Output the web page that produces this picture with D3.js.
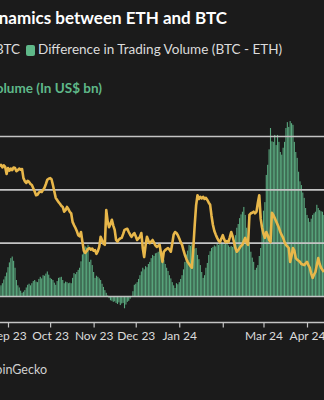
<!DOCTYPE html>
<html>
<head>
<meta charset="utf-8">
<script src="https://cdn.jsdelivr.net/npm/d3@7"></script>
<style>
  html, body { margin: 0; padding: 0; background: #1b1b1b; overflow: hidden; }
  svg { display: block; font-family: Lato, "Open Sans", sans-serif; }
</style>
</head>
<body>
<svg id="chart"></svg>
<script>
// Chart size matches the browser window
const width = 324;
const height = 400;

// First day of the series (one value per day from here)
const startDate = new Date(2023, 7, 26);

// Difference in trading volume BTC - ETH (US$ bn), daily
const volumeDiff = [
  1.7, 2.0, 2.4, 3.1, 3.7, 4.4, 5.4, 6.3, 7.1, 7.4, 6.6, 5.3, 3.0, 2.0, 1.6, 1.0, 0.6, 0.8, 1.1, 1.6,
  2.1, 2.3, 2.0, 2.4, 2.8, 3.0, 2.7, 2.6, 3.2, 3.6, 3.3, 3.9, 3.8, 4.2, 4.6, 4.0, 3.4, 3.2, 3.0, 2.5,
  2.1, 2.8, 3.4, 3.5, 3.6, 3.0, 2.4, 2.7, 2.6, 2.4, 2.5, 2.4, 3.4, 4.3, 4.1, 4.5, 4.9, 5.3, 6.5, 7.8,
  9.0, 9.3, 9.1, 9.6, 6.4, 6.8, 5.8, 4.5, 3.4, 3.8, 3.6, 3.3, 3.0, 2.3, 1.7, 1.1, 0.6, 0.1, -0.4, -0.8,
  -0.9, -1.1, -1.0, -1.3, -1.5, -1.2, -1.7, -1.4, -1.3, -2.3, -1.6, -1.1, -0.9, -0.5, -0.2, 0.9, 2.1, 2.3, 2.6, 3.2,
  3.9, 4.6, 5.3, 5.0, 5.6, 5.4, 6.0, 6.4, 7.1, 7.7, 7.5, 8.0, 8.1, 8.3, 8.6, 8.2, 7.6, 6.8, 6.0, 5.3,
  4.7, 3.9, 3.3, 2.6, 2.0, 1.5, 2.4, 2.2, 2.6, 3.2, 3.9, 5.0, 6.4, 7.8, 8.5, 9.6, 9.4, 9.7, 9.2, 8.9,
  9.0, 7.7, 6.9, 5.8, 4.5, 3.4, 3.9, 5.3, 6.2, 7.7, 8.4, 9.0, 9.2, 9.5, 9.3, 9.9, 9.6, 9.9, 10.1, 9.9,
  9.7, 10.0, 9.9, 9.5, 9.2, 9.4, 9.2, 10.5, 11.4, 12.8, 13.5, 14.6, 15.3, 15.8, 16.7, 15.2, 12.8, 11.2, 10.1, 8.3,
  7.2, 6.4, 4.9, 5.3, 5.8, 7.5, 9.0, 13.3, 16.0, 17.6, 22.7, 24.6, 27.5, 31.5, 29.0, 28.9, 30.2, 28.3, 30.2, 28.9,
  27.0, 26.5, 27.8, 28.9, 31.5, 32.6, 31.7, 32.8, 32.4, 32.1, 28.9, 27.0, 25.9, 23.3, 21.5, 20.8, 19.4, 18.4, 16.5, 15.2,
  14.6, 13.9, 14.5, 15.2, 15.5, 15.8, 17.1, 16.5, 16.1, 15.9, 15.8, 15.2
];

// ETH volume as share of BTC volume (%), daily
const ethBtcRatio = [
  64.4, 64.6, 64.1, 64.5, 64.2, 62.9, 64.0, 63.5, 63.9, 63.6, 64.1, 64.0, 63.4, 63.6, 63.9, 63.7, 63.8, 62.1, 61.5, 61.2,
  61.6, 61.4, 61.0, 60.8, 60.2, 59.6, 58.9, 59.0, 59.4, 59.6, 59.5, 59.9, 60.3, 61.0, 61.8, 62.0, 62.1, 61.9, 60.8, 59.6,
  58.4, 58.0, 57.6, 57.3, 56.9, 56.7, 55.8, 56.1, 56.7, 56.3, 55.8, 55.5, 53.9, 53.3, 52.8, 52.2, 51.4, 51.2, 52.0, 50.2,
  48.5, 48.1, 48.4, 48.8, 49.0, 48.7, 48.9, 48.5, 48.6, 47.9, 48.4, 49.2, 51.1, 50.5, 49.8, 49.6, 56.1, 54.0, 52.9, 53.5,
  54.3, 53.2, 52.4, 50.5, 50.2, 50.6, 50.8, 50.9, 51.6, 52.4, 52.5, 52.6, 52.0, 51.5, 51.1, 51.5, 51.8, 51.2, 50.5, 50.8,
  51.1, 51.8, 49.0, 47.3, 49.5, 51.1, 50.4, 49.9, 50.2, 50.5, 50.0, 49.5, 49.2, 49.4, 49.6, 48.0, 46.4, 48.3, 48.6, 48.8,
  49.0, 48.7, 48.3, 49.8, 51.5, 52.0, 51.8, 51.4, 50.8, 50.1, 49.6, 48.6, 47.7, 47.0, 46.4, 46.0, 45.6, 45.3, 49.0, 53.3,
  57.0, 58.9, 58.2, 58.6, 58.3, 58.6, 58.2, 58.4, 58.0, 57.5, 57.1, 55.0, 53.3, 52.2, 51.5, 50.9, 50.4, 50.1, 50.8, 51.4,
  50.6, 50.1, 50.3, 50.1, 51.0, 52.0, 51.2, 50.1, 49.0, 48.3, 48.6, 49.0, 49.4, 49.6, 50.3, 50.9, 50.0, 49.6, 55.2, 55.5,
  55.6, 55.8, 55.5, 55.8, 57.5, 58.9, 54.5, 52.8, 51.7, 50.9, 52.0, 51.4, 50.5, 50.1, 55.6, 55.2, 54.6, 54.0, 53.4, 52.8,
  52.0, 51.4, 50.9, 50.1, 49.6, 49.3, 49.0, 46.4, 47.5, 49.0, 48.5, 47.1, 46.8, 46.6, 46.4, 46.0, 45.9, 45.8, 46.1, 46.4,
  45.8, 45.3, 44.2, 43.4, 44.0, 44.5, 45.8, 47.1, 46.0, 45.3, 44.9, 44.5
];

// Axis ticks and text
const gridValues = [0, 10, 20, 30];
const monthTicks = [
  new Date(2023, 8, 1), new Date(2023, 9, 1), new Date(2023, 10, 1), new Date(2023, 11, 1),
  new Date(2024, 0, 1), new Date(2024, 1, 1), new Date(2024, 2, 1), new Date(2024, 3, 1)
];
const monthLabels = ["Sep 23", "Oct 23", "Nov 23", "Dec 23", "Jan 24", "", "Mar 24", "Apr 24"];

const titleText = "Trading Volume Dynamics between ETH and BTC";
const legendLine = "ETH Volume as % of BTC";
const legendBars = "Difference in Trading Volume (BTC - ETH)";
const axisTitle = "Trading Volume (In US$ bn)";
const sourceText = "Source: CoinGecko";

// Colours
const barColor = "#5aa97f";
const lineColor = "#e8b74a";
const greenText = "#5fb889";

const data = volumeDiff.map((v, i) => ({
  date: d3.timeDay.offset(startDate, i),
  vol: v,
  ratio: ethBtcRatio[i]
}));

const svg = d3.select("#chart")
  .attr("width", width)
  .attr("height", height);

svg.append("rect")
  .attr("width", width)
  .attr("height", height)
  .attr("fill", "#1b1b1b");

// Scales
const x = d3.scaleTime()
  .domain([monthTicks[0], monthTicks[monthTicks.length - 1]])
  .range([8, 307]);

const yVol = d3.scaleLinear().domain([0, 30]).range([296, 136]);
const yRatio = d3.scaleLinear().domain([40, 70]).range([296, 136]);

const dayWidth = x(d3.timeDay.offset(monthTicks[0], 1)) - x(monthTicks[0]);
const barWidth = dayWidth * 0.78;

// Bars
svg.append("g")
  .selectAll("rect")
  .data(data)
  .enter()
  .append("rect")
  .attr("x", d => x(d.date) - barWidth / 2)
  .attr("y", d => Math.min(yVol(d.vol), yVol(0)))
  .attr("width", barWidth)
  .attr("height", d => Math.abs(yVol(d.vol) - yVol(0)))
  .attr("fill", barColor);

// Grid lines (drawn over the bars)
const grid = svg.append("g")
  .call(d3.axisRight(yVol).tickValues(gridValues).tickSize(width).tickFormat(""));
grid.select(".domain").remove();
grid.selectAll("line")
  .attr("stroke", "#c4c4c4")
  .attr("stroke-width", 1.6);

// Ratio line
const line = d3.line()
  .x(d => x(d.date))
  .y(d => yRatio(d.ratio))
  .curve(d3.curveLinear);

svg.append("path")
  .datum(data)
  .attr("d", line)
  .attr("fill", "none")
  .attr("stroke", lineColor)
  .attr("stroke-width", 2.6)
  .attr("stroke-linejoin", "round");

// X axis
const xAxis = svg.append("g")
  .attr("transform", "translate(0,322.5)")
  .call(d3.axisBottom(x)
    .tickValues(monthTicks)
    .tickSize(5)
    .tickPadding(4)
    .tickFormat((d, i) => monthLabels[i]));
xAxis.select(".domain").remove();
xAxis.append("line")
  .attr("x1", 0)
  .attr("x2", width)
  .attr("stroke", "#c4c4c4")
  .attr("stroke-width", 1.4);
xAxis.selectAll(".tick line").attr("stroke", "#c4c4c4").attr("stroke-width", 1.2);
xAxis.selectAll(".tick text")
  .attr("fill", "#dcdcdc")
  .style("font-size", "12px")
  .style("font-family", "Lato, sans-serif");

// Title, legend, axis title and source (cropped on the left like the picture)
svg.append("text")
  .attr("x", 227)
  .attr("y", 24)
  .attr("text-anchor", "end")
  .attr("fill", "#ffffff")
  .style("font-size", "17px")
  .style("font-weight", "bold")
  .text(titleText);

svg.append("text")
  .attr("x", 20)
  .attr("y", 54)
  .attr("text-anchor", "end")
  .attr("fill", "#dcdcdc")
  .style("font-size", "13.5px")
  .text(legendLine);

svg.append("rect")
  .attr("x", 26)
  .attr("y", 45)
  .attr("width", 9)
  .attr("height", 11)
  .attr("rx", 2)
  .attr("fill", greenText);

svg.append("text")
  .attr("x", 38)
  .attr("y", 54)
  .attr("fill", "#dcdcdc")
  .style("font-size", "13.5px")
  .text(legendBars);

svg.append("text")
  .attr("x", 102)
  .attr("y", 93)
  .attr("text-anchor", "end")
  .attr("fill", greenText)
  .style("font-size", "13.5px")
  .style("font-weight", "bold")
  .text(axisTitle);

svg.append("text")
  .attr("x", 47)
  .attr("y", 374)
  .attr("text-anchor", "end")
  .attr("fill", "#d0d0d0")
  .style("font-size", "12.5px")
  .text(sourceText);
</script>
</body>
</html>
